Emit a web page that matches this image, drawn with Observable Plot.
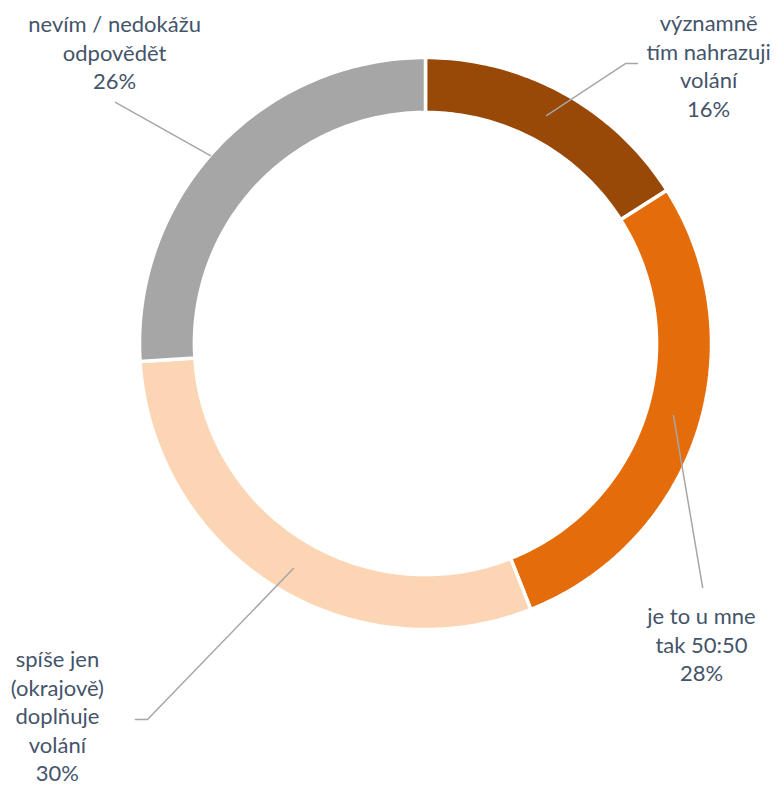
<!DOCTYPE html>
<html>
<head>
<meta charset="utf-8">
<script src="https://cdn.jsdelivr.net/npm/d3@7"></script>
<script src="https://cdn.jsdelivr.net/npm/@observablehq/plot@0.6"></script>
<style>
  html, body { margin: 0; padding: 0; background: #fff; }
  #chart svg { display: block; }
</style>
</head>
<body>
<div id="chart"></div>
<script>
// ---- data ----
const categories = [
  "významně tím nahrazuji volání",
  "je to u mne tak 50:50",
  "spíše jen (okrajově) doplňuje volání",
  "nevím / nedokážu odpovědět"
];
const values = [16, 28, 30, 26];
const labelLines = [
  ["významně", "tím nahrazuji", "volání"],
  ["je to u mne", "tak 50:50"],
  ["spíše jen", "(okrajově)", "doplňuje", "volání"],
  ["nevím / nedokážu", "odpovědět"]
];
const colors = ["#984807", "#e46c0a", "#fcd5b5", "#a6a6a6"];

// ---- layout (unit circle coordinates, y up) ----
const innerRadius = 0.808;
const labelPos = [[0.99, 0.974], [0.965, -1.049], [-1.287, -1.299], [-1.087, 1.021]];
const leaderPts = [
  [[0.741, 0.979], [0.699, 0.979], [0.423, 0.797]],
  [[0.867, -0.252], [0.969, -0.853]],
  [[-0.462, -0.787], [-0.972, -1.315], [-1.014, -1.315]],
  [[-1.084, 0.843], [-0.752, 0.657]]
];

// ---- build slice polygons from the values ----
const total = d3.sum(values);
const slices = [];
let acc = 0;
values.forEach((v, i) => {
  const a0 = acc / total * 2 * Math.PI;
  acc += v;
  const a1 = acc / total * 2 * Math.PI;
  const n = Math.max(8, Math.ceil((a1 - a0) / (Math.PI / 180)));
  const pts = [];
  for (let k = 0; k <= n; k++) {
    const a = a0 + (a1 - a0) * k / n;
    pts.push({ x: Math.sin(a), y: Math.cos(a) });
  }
  for (let k = n; k >= 0; k--) {
    const a = a0 + (a1 - a0) * k / n;
    pts.push({ x: innerRadius * Math.sin(a), y: innerRadius * Math.cos(a) });
  }
  pts.push(pts[0]);
  pts.forEach(p => slices.push({ ...p, cat: categories[i] }));
});

const labels = categories.map((c, i) => ({
  x: labelPos[i][0],
  y: labelPos[i][1],
  text: [...labelLines[i], values[i] + "%"].join("\n")
}));

const leaders = [];
leaderPts.forEach((pts, i) => pts.forEach(p => leaders.push({ x: p[0], y: p[1], id: i })));

const chart = Plot.plot({
  width: 779,
  height: 787,
  margin: 0,
  style: { fontFamily: "Lato, sans-serif", background: "#fff" },
  x: { domain: [-1, 1], range: [139, 711], axis: null },
  y: { domain: [-1, 1], range: [629, 57], axis: null },
  color: { domain: categories, range: colors },
  marks: [
    Plot.line(slices, {
      x: "x", y: "y", z: "cat", fill: "cat",
      stroke: "white", strokeWidth: 3.5, strokeLinejoin: "miter"
    }),
    Plot.line(leaders, {
      x: "x", y: "y", z: "id",
      stroke: "#a6a6a6", strokeWidth: 1.5
    }),
    Plot.text(labels, {
      x: "x", y: "y", text: "text",
      fontSize: 22, lineHeight: 1.3, lineAnchor: "middle",
      textAnchor: "middle", fill: "#44546a"
    })
  ]
});
document.getElementById("chart").appendChild(chart);
</script>
</body>
</html>
